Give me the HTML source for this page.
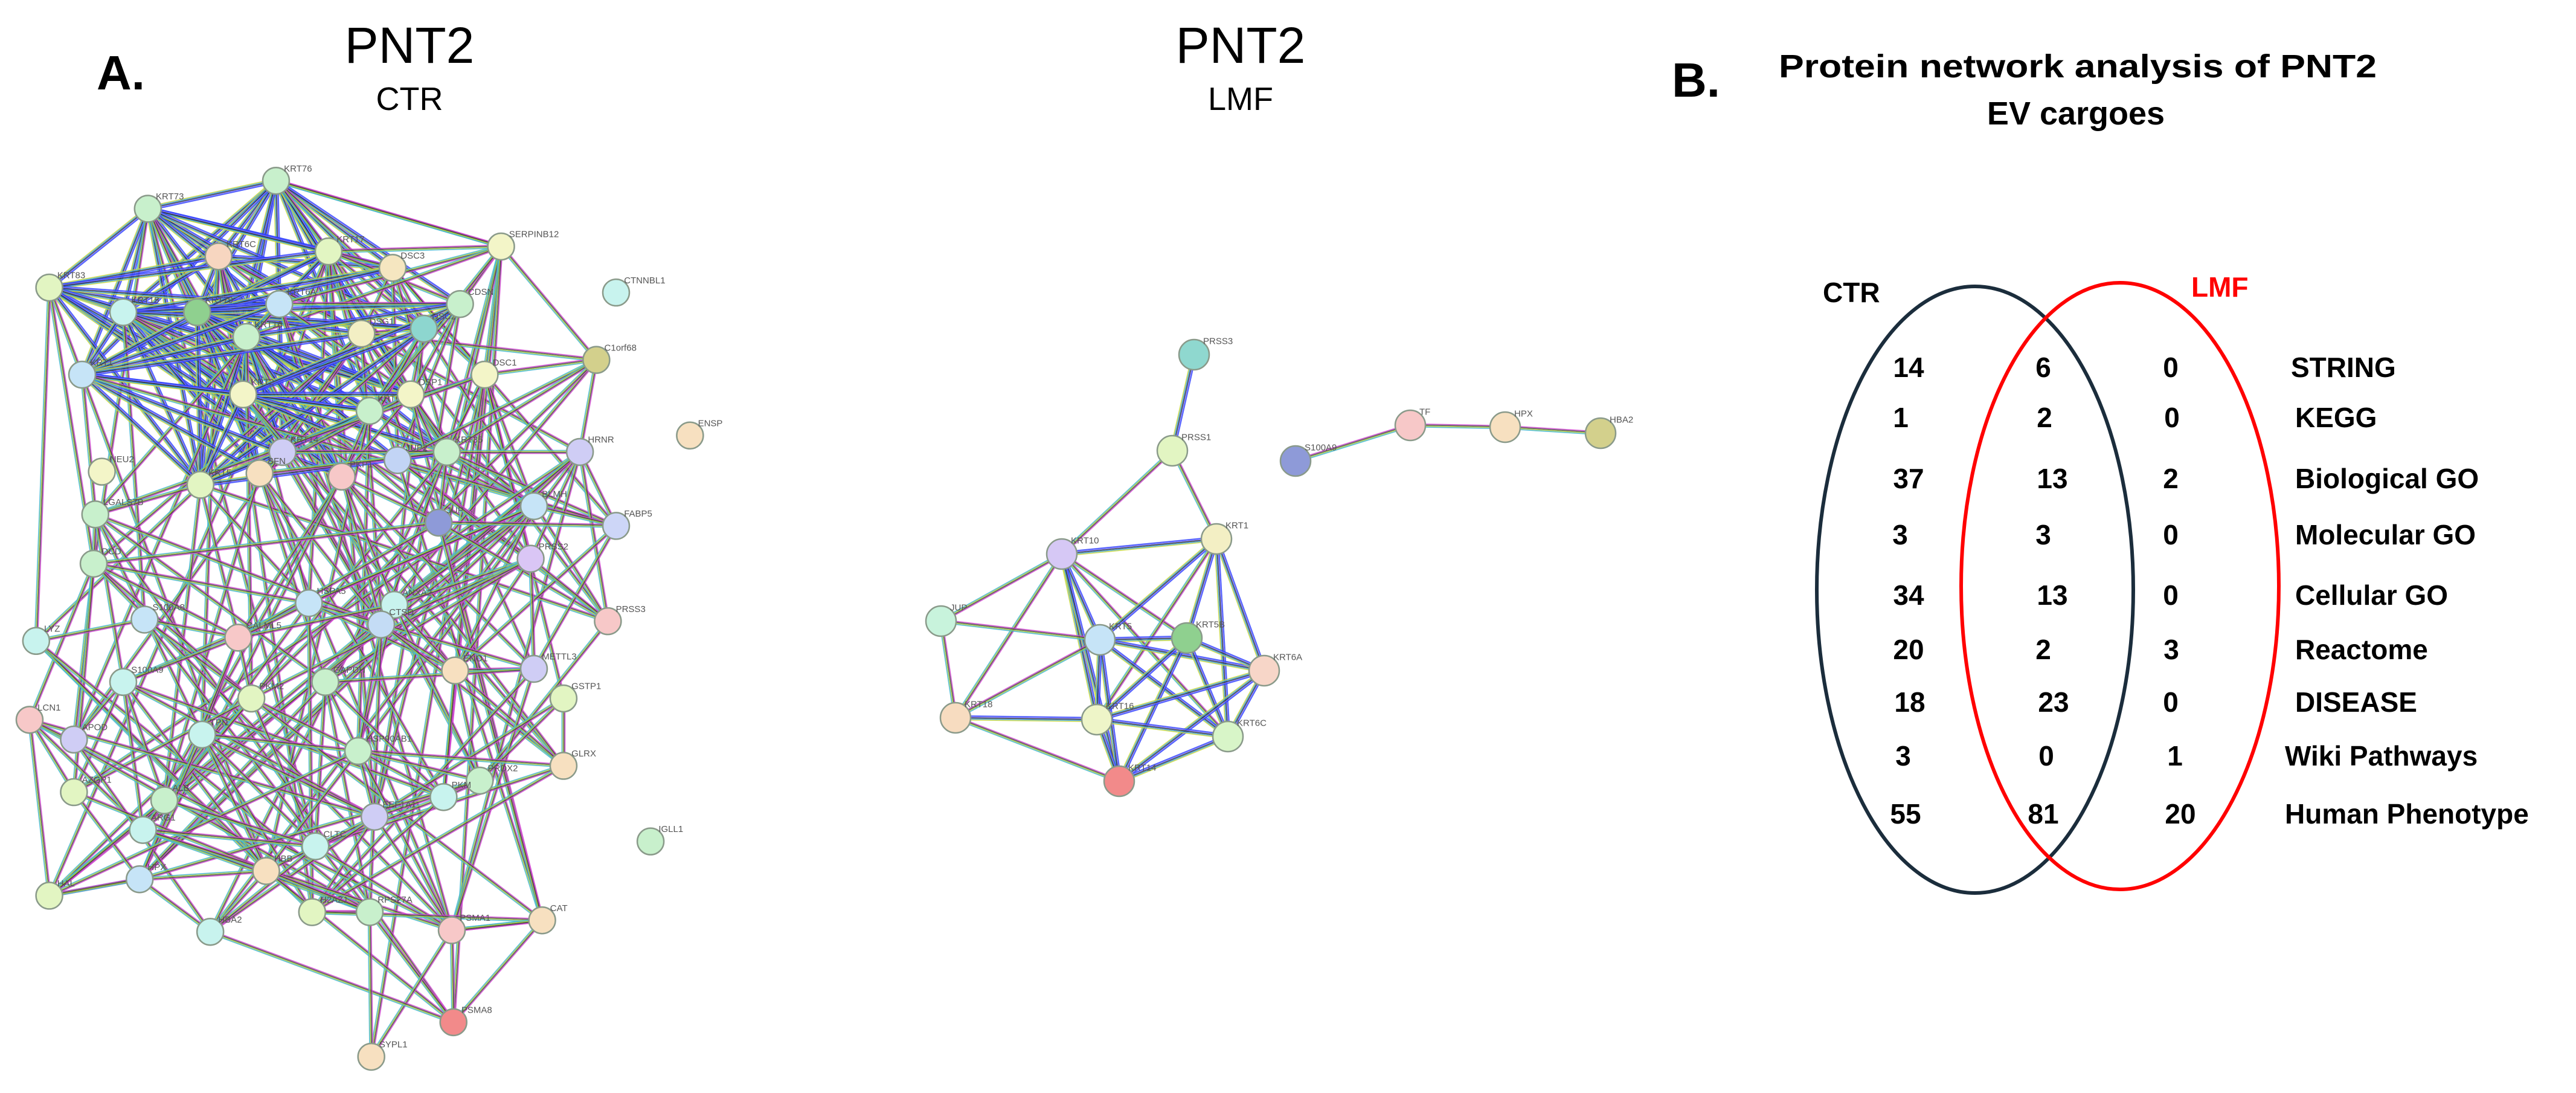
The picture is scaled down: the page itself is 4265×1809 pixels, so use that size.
<!DOCTYPE html>
<html><head><meta charset="utf-8">
<style>
html,body{margin:0;padding:0;background:#fff;}
svg{display:block;}
.t{font-family:"Liberation Sans",sans-serif;}
.b{font-family:"Liberation Sans",sans-serif;font-weight:bold;}
.lab{font-family:"Liberation Sans",sans-serif;font-size:15px;fill:#555;}
</style></head>
<body>
<svg id="s" width="4265" height="1809" viewBox="0 0 4265 1809" xmlns="http://www.w3.org/2000/svg">
<rect width="4265" height="1809" fill="#fff"/>
<g id="edges"></g>
<g id="nodes"></g>
<text x="160" y="148" class="b" font-size="80">A.</text>
<text x="678" y="104" class="t" font-size="84" text-anchor="middle">PNT2</text>
<text x="678" y="182" class="t" font-size="54" text-anchor="middle">CTR</text>
<text x="2054" y="104" class="t" font-size="84" text-anchor="middle">PNT2</text>
<text x="2054" y="182" class="t" font-size="54" text-anchor="middle">LMF</text>
<text x="2768" y="160" class="b" font-size="80">B.</text>
<text x="3440" y="128" class="b" font-size="54" text-anchor="middle" textLength="990" lengthAdjust="spacingAndGlyphs">Protein network analysis of PNT2</text>
<text x="3437" y="206" class="b" font-size="54" text-anchor="middle">EV cargoes</text>
<ellipse cx="3270" cy="976" rx="262" ry="502" fill="none" stroke="#1b2d3c" stroke-width="6"/>
<ellipse cx="3510" cy="970" rx="263" ry="502" fill="none" stroke="#ff0000" stroke-width="6"/>
<text x="3018" y="500" class="b" font-size="46">CTR</text>
<text x="3628" y="491" class="b" font-size="46" fill="#ff0000">LMF</text>
<g class="b" font-size="46" text-anchor="middle">
<text x="3160" y="624">14</text><text x="3383" y="624">6</text><text x="3594" y="624">0</text>
<text x="3147" y="707">1</text><text x="3385" y="707">2</text><text x="3596" y="707">0</text>
<text x="3160" y="808">37</text><text x="3398" y="808">13</text><text x="3594" y="808">2</text>
<text x="3146" y="901">3</text><text x="3383" y="901">3</text><text x="3594" y="901">0</text>
<text x="3160" y="1001">34</text><text x="3398" y="1001">13</text><text x="3594" y="1001">0</text>
<text x="3160" y="1091">20</text><text x="3383" y="1091">2</text><text x="3595" y="1091">3</text>
<text x="3162" y="1178">18</text><text x="3400" y="1178">23</text><text x="3594" y="1178">0</text>
<text x="3151" y="1267">3</text><text x="3388" y="1267">0</text><text x="3601" y="1267">1</text>
<text x="3155" y="1363">55</text><text x="3383" y="1363">81</text><text x="3610" y="1363">20</text>
</g>
<g class="b" font-size="46">
<text x="3793" y="624">STRING</text>
<text x="3800" y="707">KEGG</text>
<text x="3800" y="808">Biological GO</text>
<text x="3800" y="901">Molecular GO</text>
<text x="3800" y="1001">Cellular GO</text>
<text x="3800" y="1091">Reactome</text>
<text x="3800" y="1178">DISEASE</text>
<text x="3783" y="1267">Wiki Pathways</text>
<text x="3783" y="1363">Human Phenotype</text>
</g>
</svg>
<script>
(function(){
var NS="http://www.w3.org/2000/svg",S=2.72;
var G="#c8f0cc",Y="#f3f5c8",P="#f7d6c0",B="#c6e4f7",C="#c8f3ee",L="#cfcdf5",K="#f7c8c8",YG="#e2f5c2",PE="#f7e0c0";
var A=[
["KRT76",168,110,G,1],["KRT73",90,127,G,1],["KRT6C",133,156,P,1],["KRT83",30,175,YG,1],
["KRT17",200,153,YG,2],["DSC3",239,163,"#f5e6c0",2],["SERPINB12",305,150,Y,3],
["KRT15",75,190,C,1],["KRT79",120,190,"#8fd08f",1],["KRT6A",170,185,B,2],["KRT16",150,205,G,1],
["DSG1",220,203,"#f3efc4",2],["DSC2",258,200,"#8dd6cf",2],["CDSN",280,185,G,2],
["CTNNBL1",375,178,C,0],["KRT1",50,228,B,1],["KRT2",148,240,Y,1],["KRT10",225,250,G,2],["DSP1",250,240,Y,2],
["DSC1",295,228,Y,3],["C1orf68",363,219,"#d3d08c",3],["KRT14",172,275,L,2],["JUP2",242,280,"#c2d4f5",2],["KRT35",272,275,G,2],
["HRNR",353,275,L,3],["ENSP",420,265,PE,0],["NEU2",62,287,Y,0],["KRT5",122,295,YG,1],["SFN",158,288,PE,2],["PKP1",208,290,K,2],
["LGALS7B",58,313,G,4],["BLMH",325,308,B,3],["JUP",267,318,"#8e9ad8",3],["FABP5",375,320,"#cdd6f7",3],["DCD",57,343,G,4],
["PRSS2",323,340,"#dac6f5",3],["HSPA5",188,367,B,4],["ANXA2",240,368,C,4],["CTSD",232,380,"#c4dcf5",4],["PRSS3",370,378,K,3],
["S100A8",88,377,B,4],["LYZ",22,390,C,4],["CALML5",145,388,K,4],["ENO1",277,408,PE,4],["METTL3",325,407,L,4],
["GAPDH",198,415,G,4],["S100A9",75,415,C,4],["GSTP1",343,425,YG,4],["PKM2",153,425,YG,4],["LCN1",18,438,K,4],
["APOD",45,450,L,4],["TPI1",123,447,C,4],["HSP90AB1",218,457,G,4],["GLRX",343,466,PE,4],["PRDX2",292,475,G,4],
["AZGP1",45,482,YG,4],["PKM",270,485,C,4],["ALB",100,487,G,4],["EEF1A1",228,497,L,4],["ARG1",87,505,C,4],
["CLTC",192,515,C,4],["IGLL1",396,512,G,0],["HBB",162,530,PE,4],["HPX",85,535,B,4],["HAL",30,545,YG,4],
["H2AZ1",190,555,YG,4],["RPS27A",225,555,G,4],["CAT",330,560,PE,4],["PSMA1",275,566,K,4],["HBA2",128,567,C,4],
["PSMA8",276,622,"#f28a8a",4],["SYPL1",226,643,PE,4]];
var LM=[
["PRSS3",1977,587,"#8fd8cf"],["PRSS1",1941,746,"#e2f5c2"],["S100A9",2145,763,"#8e9ad8"],["TF",2335,704,"#f7c8c8"],
["HPX",2492,707,"#f7e0c0"],["HBA2",2650,717,"#d3d08c"],["KRT10",1758,917,"#d6c8f5"],["KRT1",2014,892,"#f3efc4"],
["JUP",1558,1028,"#c8f3dc"],["KRT5",1821,1059,"#c6e4f7"],["KRT5B",1965,1056,"#8fd08f"],["KRT6A",2093,1110,"#f7d6c8"],
["KRT18",1582,1188,"#f7dcc0"],["KRT16",1816,1191,"#eef5c8"],["KRT6C",2033,1219,"#d8f5c8"],["KRT14",1853,1293,"#f28a8a"]];
var eg=document.getElementById("edges"),ng=document.getElementById("nodes");
var seed=12345;function rnd(){seed=(seed*16807)%2147483647;return seed/2147483647;}
var NORM=["#d044d0","#444","#a8c840","#44b8d0"],BLUE=["#2f3fff","#6a6aff","#333","#3b9dd8","#c8d840"];
function edge(x1,y1,x2,y2,cols,gap,w){
 var dx=x2-x1,dy=y2-y1,l=Math.sqrt(dx*dx+dy*dy)||1,nx=-dy/l,ny=dx/l,n=cols.length;
 for(var i=0;i<n;i++){var o=(i-(n-1)/2)*gap;
  var ln=document.createElementNS(NS,"line");
  ln.setAttribute("x1",x1+nx*o);ln.setAttribute("y1",y1+ny*o);ln.setAttribute("x2",x2+nx*o);ln.setAttribute("y2",y2+ny*o);
  ln.setAttribute("stroke",cols[i]);ln.setAttribute("stroke-width",w);ln.setAttribute("stroke-opacity","0.85");eg.appendChild(ln);}
}
var pts=A.map(function(n){return [n[1]*S,n[2]*S];});
for(var i=0;i<A.length;i++)for(var j=i+1;j<A.length;j++){
 var a=A[i],b=A[j];if(a[4]==0||b[4]==0)continue;
 var dx=pts[i][0]-pts[j][0],dy=pts[i][1]-pts[j][1],d=Math.sqrt(dx*dx+dy*dy);
 var p=0;
 if(a[4]==1&&b[4]==1)p=0.85;
 else if((a[4]<=2)&&(b[4]<=2))p=d<500?0.55:0.25;
 else if(a[4]==2&&b[4]==2)p=0.6;
 else if(a[4]==3||b[4]==3)p=d<400?0.3:0.08;
 else p=d<300?0.38:(d<600?0.15:0.04);
 if(rnd()<p){var bl=(a[4]==1||b[4]==1)&&(a[4]<=2&&b[4]<=2);
  edge(pts[i][0],pts[i][1],pts[j][0],pts[j][1],bl?BLUE:NORM,1.7,1.7);}
}
function byName(n){for(var k=0;k<A.length;k++)if(A[k][0]==n)return pts[k];}
[["KRT76","SERPINB12"],["PSMA1","PSMA8"],["RPS27A","SYPL1"],["PRSS2","PRSS3"],["SERPINB12","C1orf68"],["DSC1","C1orf68"],["HRNR","KRT35"],["GSTP1","GLRX"],["HAL","HPX"],["HPX","HBA2"],["CAT","PSMA1"]].forEach(function(e){var p=byName(e[0]),q=byName(e[1]);edge(p[0],p[1],q[0],q[1],NORM,1.7,1.7);});
function byL(n){for(var k=0;k<LM.length;k++)if(LM[k][0]==n)return LM[k];}
var LE=[["PRSS3","PRSS1",1],["PRSS1","KRT10",0],["PRSS1","KRT1",0],["S100A9","TF",0],["TF","HPX",0],["HPX","HBA2",0],
["KRT10","KRT1",1],["KRT10","JUP",0],["KRT10","KRT5",1],["KRT10","KRT16",1],["KRT10","KRT14",1],["KRT10","KRT18",0],["KRT10","KRT6C",0],["KRT10","KRT5B",0],
["KRT1","KRT5",1],["KRT1","KRT5B",1],["KRT1","KRT6A",1],["KRT1","KRT6C",1],["KRT1","KRT16",0],["JUP","KRT18",0],["JUP","KRT5",0],
["KRT18","KRT16",1],["KRT18","KRT14",0],["KRT18","KRT5",0],["KRT5","KRT5B",1],["KRT5","KRT6A",1],["KRT5","KRT6C",1],["KRT5","KRT14",1],["KRT5","KRT16",1],
["KRT5B","KRT6A",1],["KRT5B","KRT6C",1],["KRT5B","KRT14",1],["KRT5B","KRT16",1],["KRT6A","KRT16",1],["KRT6A","KRT6C",1],["KRT6A","KRT14",1],
["KRT16","KRT6C",1],["KRT16","KRT14",1],["KRT14","KRT6C",1]];
LE.forEach(function(e){var p=byL(e[0]),q=byL(e[1]);edge(p[1],p[2],q[1],q[2],e[2]?BLUE:NORM,1.7,1.7);});
function node(x,y,r,f,name){
 var c=document.createElementNS(NS,"circle");c.setAttribute("cx",x);c.setAttribute("cy",y);c.setAttribute("r",r);
 c.setAttribute("fill",f);c.setAttribute("stroke","#8a9a8a");c.setAttribute("stroke-width","2.5");ng.appendChild(c);
 var t=document.createElementNS(NS,"text");t.setAttribute("x",x+r*0.6);t.setAttribute("y",y-r*0.7);t.setAttribute("class","lab");
 t.textContent=name;ng.appendChild(t);}
A.forEach(function(n,i){node(pts[i][0],pts[i][1],22,n[3],n[0]);});
LM.forEach(function(n){node(n[1],n[2],25,n[3],n[0]);});
})();
</script>
</body></html>
